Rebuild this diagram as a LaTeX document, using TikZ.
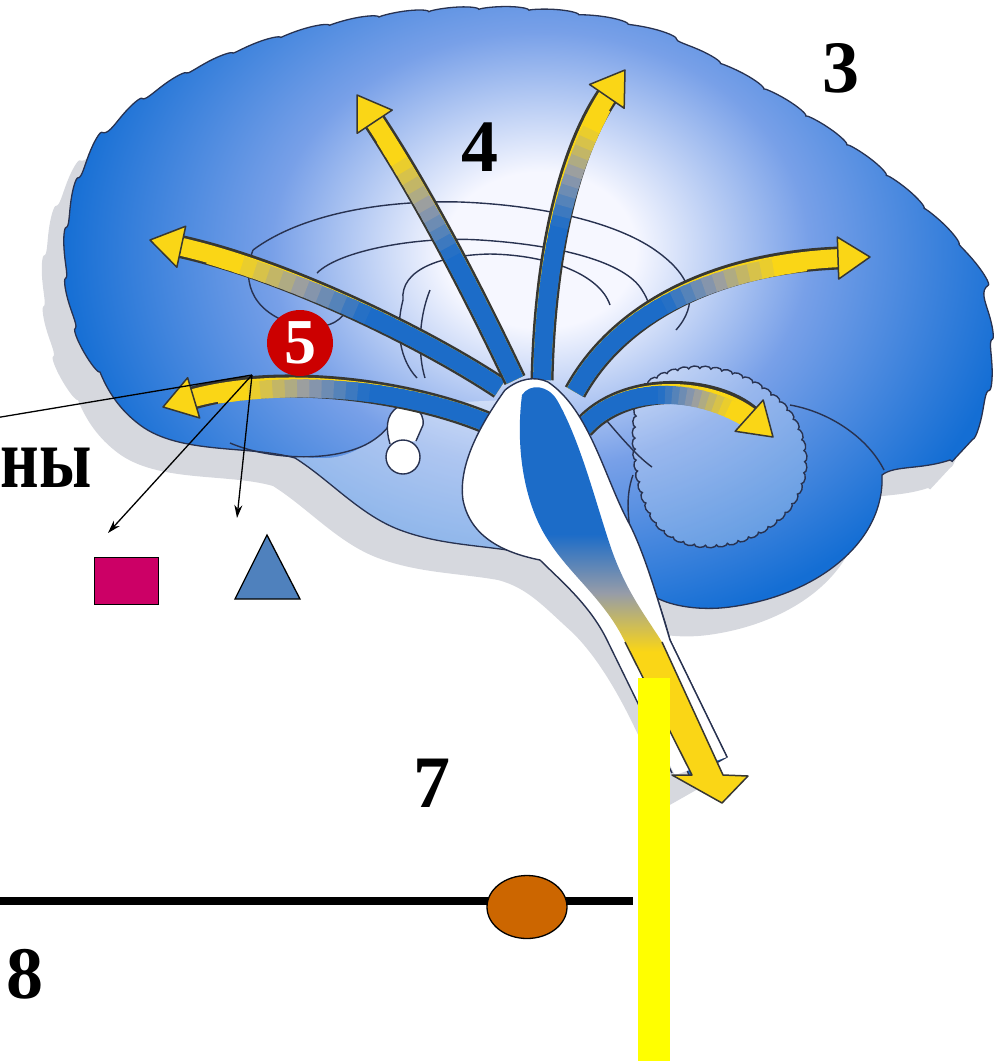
\documentclass[tikz,border=0pt]{standalone}
\usepackage{fontspec}
\setmainfont{Liberation Serif}
\usetikzlibrary{calc,arrows.meta,shapes.geometric,decorations.pathmorphing}

\definecolor{brainblue}{RGB}{20,110,212}
\definecolor{brainmid}{RGB}{120,160,232}
\definecolor{brainwhite}{RGB}{246,247,255}
\definecolor{brainline}{RGB}{40,50,80}
\definecolor{brainshadow}{RGB}{214,216,222}
\definecolor{fibreblue}{RGB}{28,108,200}
\definecolor{fibregray}{RGB}{150,156,168}
\definecolor{fibreyellow}{RGB}{250,214,22}
\definecolor{fibredark}{RGB}{55,55,50}
\definecolor{labelred}{RGB}{204,0,0}
\definecolor{squarered}{RGB}{204,0,102}
\definecolor{triblue}{RGB}{79,129,189}
\definecolor{nodeorange}{RGB}{204,102,0}
\definecolor{cordyellow}{RGB}{255,255,0}

\pgfdeclareradialshading{cortex}{\pgfpoint{0bp}{0bp}}{color(0bp)=(brainwhite); color(5bp)=(brainwhite); color(14bp)=(brainmid); color(25bp)=(brainblue); color(50bp)=(brainblue)}
\pgfdeclareverticalshading{medulla}{100bp}{color(0bp)=(fibreyellow); color(43bp)=(fibreyellow); color(50bp)=(fibregray); color(57bp)=(fibreblue); color(100bp)=(fibreblue)}

\newcommand{\brainoutline}{decorate[decoration={bumps,segment length=100pt,amplitude=4pt}]{(100,372) .. controls (70,320) and (60,250) .. (80,190) .. controls (100,120) and (180,70) .. (280,40) .. controls (380,10) and (520,0) .. (620,25) .. controls (700,40) and (890,160) .. (960,250) .. controls (995,310) and (1000,400) .. (950,460)} .. controls (920,470) and (895,465) .. (882,475) .. controls (885,540) and (820,595) .. (730,607) .. controls (700,611) and (672,606) .. (657,598) .. controls (662,612) and (666,625) .. (670,640) -- (727,757) -- (690,778) .. controls (660,700) and (630,640) .. (595,605) .. controls (565,578) and (550,560) .. (520,552) .. controls (480,545) and (440,545) .. (400,530) .. controls (360,515) and (330,480) .. (295,458) .. controls (250,445) and (180,455) .. (140,425) .. controls (120,410) and (108,392) .. (100,372) -- cycle}

\newcommand{\fibre}[5]{%
	\draw[fibre edge,shorten >=30pt] #2 .. controls #3 and #4 .. #5;
	\draw[fibre core,draw=fibreyellow,shorten >=24pt] #2 .. controls #3 and #4 .. #5;
	\foreach \k in {0,...,24}{
		\pgfmathsetmacro\ta{\k/30}
		\pgfmathsetmacro\tb{(\k+1.5)/30}
		\pgfmathsetmacro\mixu{max(0,min(1,(\ta-0.42)/0.34))}
		\pgfmathsetmacro\mixg{min(100,200*\mixu)}
		\pgfmathsetmacro\mixy{max(0,200*\mixu-100)}
		\colorlet{fibremix}{fibregray!\mixg!fibreblue}
		\colorlet{fibremix}{fibreyellow!\mixy!fibremix}
		\path #2 .. controls #3 and #4 .. #5 coordinate[pos=\ta] (#1-a) coordinate[pos=\tb] (#1-b);
		\draw[fibre core,draw=fibremix] (#1-a) -- (#1-b);
	}
	\coordinate (#1-base) at ($#5!32pt!#4$);
	\filldraw[fibre head] #5 -- ($(#1-base)!21pt!90:#5$) -- ($(#1-base)!21pt!-90:#5$) -- cycle;
}

\begin{document}
\begin{tikzpicture}[x=1pt,y=-1pt]
	\tikzstyle{brain edge}=[draw=brainline,line width=1.3pt]
	\tikzstyle{inner line}=[draw=brainline,line width=1.4pt]
	\tikzstyle{fibre edge}=[draw=fibredark,line width=23pt]
	\tikzstyle{fibre core}=[line width=18pt]
	\tikzstyle{fibre head}=[fill=fibreyellow,draw=fibredark,line width=1.5pt,line join=round]
	\tikzstyle{numeral}=[inner sep=0pt,font=\fontsize{74}{74}\selectfont\bfseries]
	\tikzstyle{pointer}=[draw=black,line width=1.3pt]

	\useasboundingbox (0,0) rectangle (1000,1061);

	\begin{scope}[shift={(-22,28)}]
		\fill[brainshadow] \brainoutline;
	\end{scope}
	\begin{scope}
		\clip \brainoutline;
		\fill[brainblue] (0,0) rectangle (1000,800);
		\shade[shading=cortex] (540,250) ellipse [x radius=480,y radius=390];
		\fill[white,opacity=0.4] (300,456) .. controls (330,462) and (350,455) .. (365,445) .. controls (385,435) and (395,420) .. (400,405) -- (505,400) -- (520,552) .. controls (480,545) and (440,545) .. (400,530) .. controls (360,515) and (330,480) .. (295,458) -- cycle;
	\end{scope}
	\draw[brain edge] \brainoutline;

	\draw[inner line] (253,250) .. controls (300,215) and (380,200) .. (460,202) .. controls (540,205) and (615,222) .. (655,250) .. controls (695,278) and (698,305) .. (676,330);
	\draw[inner line] (253,250) .. controls (240,285) and (255,315) .. (300,326) .. controls (325,330) and (340,322) .. (345,312);
	\draw[inner line] (317,273) .. controls (340,250) and (420,236) .. (480,240) .. controls (560,245) and (625,262) .. (642,290) .. controls (655,310) and (650,322) .. (640,330);
	\draw[inner line] (403,300) .. controls (400,270) and (440,255) .. (490,254) .. controls (550,255) and (600,275) .. (610,305);
	\draw[inner line] (403,300) .. controls (395,330) and (400,360) .. (417,378);
	\draw[inner line] (430,290) .. controls (418,320) and (418,355) .. (425,378);
	\draw[inner line] (230,443) .. controls (270,460) and (330,462) .. (365,445) .. controls (385,435) and (395,420) .. (400,405);
	\draw[inner line,fill=white] (390,444) .. controls (386,430) and (385,415) .. (398,407) .. controls (410,402) and (425,410) .. (423,425) -- (416,441);
	\draw[inner line,fill=white] (403,457) circle (17);
	\draw[inner line,fill=white,fill opacity=0.25,decorate,decoration={bumps,segment length=22pt,amplitude=3pt}] (640,392) .. controls (670,360) and (730,362) .. (770,395) .. controls (805,420) and (815,470) .. (790,505) .. controls (765,540) and (700,560) .. (665,530) .. controls (640,510) and (628,450) .. cycle;
	\draw[inner line] (790,405) .. controls (830,412) and (868,438) .. (884,470);
	\draw[inner line] (600,413) .. controls (615,430) and (635,455) .. (652,467);
	\draw[inner line] (633,475) .. controls (622,505) and (630,545) .. (650,597);

	\fibre{fa}{(503,430)}{(420,390)}{(280,372)}{(163,407)}
	\fibre{fb}{(500,388)}{(420,335)}{(280,268)}{(150,240)}
	\fibre{fc}{(515,380)}{(470,285)}{(420,190)}{(357,95)}
	\fibre{fd}{(542,380)}{(545,250)}{(570,150)}{(625,70)}
	\fibre{fe}{(575,392)}{(620,310)}{(720,262)}{(870,257)}
	\fibre{ff}{(583,428)}{(625,380)}{(715,385)}{(773,437)}

	\fill[white] (505,390) .. controls (520,378) and (535,376) .. (548,382) .. controls (590,410) and (605,480) .. (630,525) .. controls (645,555) and (658,600) .. (670,640) -- (727,757) -- (675,775) -- (607,640) .. controls (590,605) and (560,580) .. (540,560) .. controls (500,552) and (470,535) .. (463,500) .. controls (458,465) and (480,425) .. cycle;
	\draw[inner line] (505,390) .. controls (520,378) and (535,376) .. (548,382) .. controls (590,410) and (605,480) .. (630,525) .. controls (645,555) and (658,600) .. (670,640) -- (727,757);
	\draw[inner line] (672,773) -- (607,640) .. controls (590,605) and (560,580) .. (540,560) .. controls (500,552) and (470,535) .. (463,500) .. controls (458,465) and (480,425) .. (505,390);

	\shade[shading=medulla] (522,395) .. controls (530,383) and (548,385) .. (557,400) .. controls (580,440) and (595,500) .. (610,545) .. controls (625,590) and (645,615) .. (662,642) -- (723,775) -- (748,776) -- (722,803) -- (672,775) -- (692,775) -- (625,642) .. controls (605,600) and (570,575) .. (548,540) .. controls (525,505) and (515,450) .. cycle;
	\draw[fibre head,fill=none] (662,642) -- (723,775) -- (748,776) -- (722,803) -- (672,775) -- (692,775) -- (625,642);

	\node[numeral] (three) at (841,68) {3};
	\node[numeral] (four) at (480,147) {4};
	\node[numeral] (seven) at (432,783) {7};
	\node[numeral] (eight) at (25,974) {8};
	\node[inner sep=0pt,anchor=base west,font=\fontsize{86}{86}\selectfont\bfseries] (hormones) at (0.5,487) {\scalebox{0.78}[1]{ны}};
	\node[circle,fill=labelred,minimum size=66pt,inner sep=0pt,text=white,font=\fontsize{64}{64}\selectfont\bfseries] (five) at (300,343) {5};

	\coordinate (hub) at (252,375);
	\coordinate (hubL) at (-5,418);
	\coordinate (hubSq) at (108,533);
	\coordinate (hubTri) at (237,518);
	\draw[pointer] (hub) -- (hubL);
	\draw[pointer,-{Stealth[length=13pt,width=8pt]}] (hub) -- (hubSq);
	\draw[pointer,-{Stealth[length=13pt,width=8pt]}] (hub) -- (hubTri);

	\node[draw=black,line width=1.3pt,fill=squarered,minimum width=64pt,minimum height=47pt,inner sep=0pt] (square) at (126.5,581) {};
	\draw[line width=1.3pt,fill=triblue] (267,535) coordinate (triTop) -- (300,599) coordinate (triR) -- (235,599) coordinate (triL) -- cycle;

	\coordinate (axonL) at (0,901);
	\coordinate (axonR) at (633,901);
	\draw[line width=8pt] (axonL) -- (axonR);
	\node[ellipse,draw,line width=1.3pt,fill=nodeorange,minimum width=80pt,minimum height=63pt] (ganglion) at (527,907) {};
	\node[fill=cordyellow,minimum width=32pt,minimum height=384pt,inner sep=0pt] (cordbar) at (654,870) {};
\end{tikzpicture}
\end{document}
